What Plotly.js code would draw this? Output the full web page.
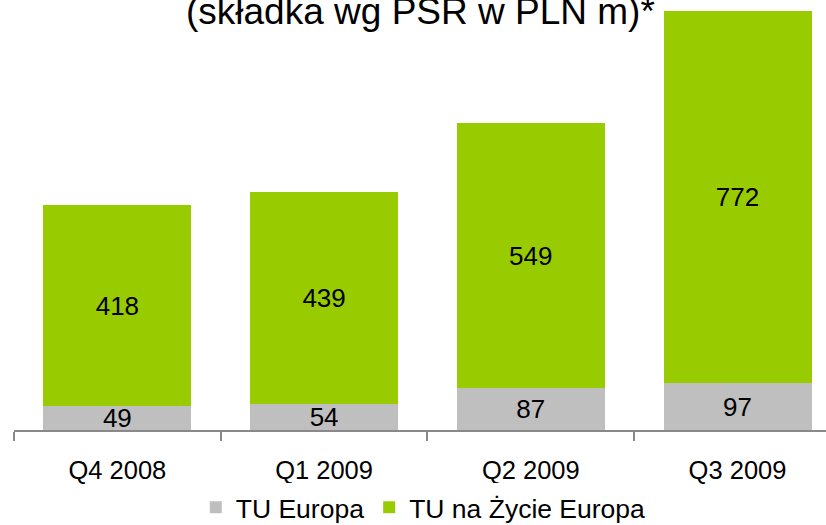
<!DOCTYPE html>
<html>
<head>
<meta charset="utf-8">
<script src="https://cdn.plot.ly/plotly-3.0.1.min.js"></script>
<style>html,body{margin:0;padding:0;background:#fff;}#chart{width:826px;height:525px;}</style>
</head>
<body>
<div id="chart"></div>
<script>
const categories = ["Q4 2008", "Q1 2009", "Q2 2009", "Q3 2009"];
const tuEuropa = [49, 54, 87, 97];
const tuNaZycie = [418, 439, 549, 772];
const seriesNames = ["TU Europa", "TU na Życie Europa"];
const titleText = "(składka wg PSR w PLN m)*";

const FONT = "Liberation Sans, Arial, sans-serif";

const traces = [
  {
    type: "bar", x: categories, y: tuEuropa, name: seriesNames[0],
    marker: {color: "#BFBFBF"},
    text: tuEuropa.map(String), textposition: "inside", insidetextanchor: "middle",
    constraintext: "none", textangle: 0,
    textfont: {family: FONT, size: 26, color: "#000"},
    hoverinfo: "skip"
  },
  {
    type: "bar", x: categories, y: tuNaZycie, name: seriesNames[1],
    marker: {color: "#99CC00"},
    text: tuNaZycie.map(String), textposition: "inside", insidetextanchor: "middle",
    constraintext: "none", textangle: 0,
    textfont: {family: FONT, size: 26, color: "#000"},
    hoverinfo: "skip"
  }
];

const layout = {
  width: 826, height: 525,
  margin: {l: 14, r: 0, t: 0, b: 95, pad: 0, autoexpand: false},
  paper_bgcolor: "#fff", plot_bgcolor: "#fff",
  barmode: "stack",
  bargap: 0.284,
  font: {family: FONT, size: 25, color: "#000"},
  showlegend: true,
  legend: {
    orientation: "h", traceorder: "normal",
    xref: "container", yref: "paper",
    x: 0.237, xanchor: "left", y: -0.236, yanchor: "bottom",
    font: {family: FONT, size: 26.5, color: "#000"},
    itemwidth: 30, tracegroupgap: 0
  },
  xaxis: {
    type: "category",
    range: [-0.5, 3.428],
    showline: true, linecolor: "#898989", linewidth: 2,
    ticks: "outside", tickson: "boundaries", ticklen: 9, tickcolor: "#898989", tickwidth: 2,
    ticklabelstandoff: 16,
    tickfont: {family: FONT, size: 25.5, color: "#000"},
    showgrid: false, zeroline: false, fixedrange: true, automargin: false
  },
  yaxis: {
    range: [0, 891.8], visible: false, showgrid: false, zeroline: false, fixedrange: true
  },
  annotations: [
    {
      text: titleText, xref: "paper", yref: "paper", x: 0.5, y: 1,
      xanchor: "center", yanchor: "top", yshift: 11, showarrow: false,
      font: {family: FONT, size: 37, color: "#000"}
    }
  ]
};

Plotly.newPlot("chart", traces, layout, {displayModeBar: false, staticPlot: true});
</script>
</body>
</html>
